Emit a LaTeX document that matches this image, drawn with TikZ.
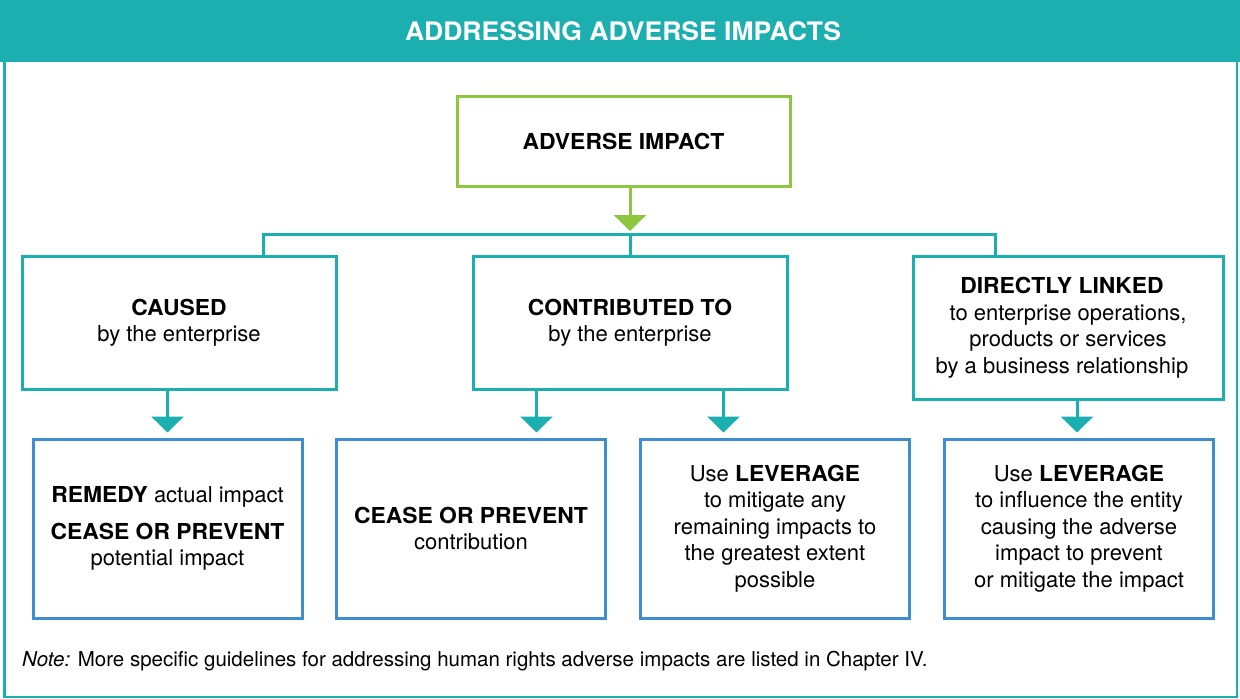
\documentclass[tikz,border=0pt]{standalone}
\usepackage{fontspec}
\setmainfont{TeX Gyre Heros}[BoldFeatures={FakeStretch=1.04}]
\usetikzlibrary{arrows.meta}
\definecolor{teal1}{HTML}{1BAFB0}
\definecolor{leaf}{HTML}{8DC63F}
\definecolor{sky}{HTML}{3E8DCE}
\newcommand{\padr}{\hspace*{12pt}}
\begin{document}
\begin{tikzpicture}[x=1pt,y=-1pt,
  boxtext/.style={font=\fontsize{22}{26.5}\selectfont, align=center, inner sep=0pt},
  tealbox/.style={boxtext, draw=teal1, line width=3pt},
  greenbox/.style={boxtext, draw=leaf, line width=3pt},
  bluebox/.style={boxtext, draw=sky, line width=3pt, minimum width=269pt, minimum height=179pt},
  tree/.style={draw=teal1, line width=3pt},
  tealarrow/.style={draw=teal1, line width=3pt, -{Triangle[width=32pt,length=16pt]}, shorten >=5pt},
  greenarrow/.style={draw=leaf, line width=3pt, -{Triangle[width=32pt,length=16pt]}, shorten >=3pt}]
\useasboundingbox (0,0) rectangle (1240,699);

% outer frame and title band
\draw[teal1, line width=2.5pt] (4.5,40) rectangle (1237,697);
\fill[teal1] (0,0) rectangle (1240,62);
\node[font=\fontsize{25.5}{30}\selectfont\bfseries, text=white, inner sep=0pt] (title) at (623,31) {ADDRESSING ADVERSE IMPACTS};

% top box
\node[greenbox, minimum width=333pt, minimum height=90pt] (impact) at (623.5,141) {\textbf{ADVERSE IMPACT}};

% middle row
\node[tealbox, minimum width=314pt, minimum height=133pt] (caused) at (179,322.5)
  {\textbf{CAUSED}\\by the enterprise};
\node[tealbox, minimum width=314pt, minimum height=133pt] (contrib) at (630,322.5)
  {\textbf{CONTRIBUTED TO}\\by the enterprise};
\node[tealbox, minimum width=310pt, minimum height=143pt] (linked) at (1068,327.5)
  {\textbf{DIRECTLY LINKED}\padr\\to enterprise operations,\padr\\products or services\padr\\by a business relationship\padr};

% bottom row
\node[bluebox] (remedy) at (167.5,528.5)
  {\textbf{REMEDY} actual impact\\[10.5pt]\textbf{CEASE OR PREVENT}\\potential impact};
\node[bluebox] (cease) at (471,528.5)
  {\textbf{CEASE OR PREVENT}\\contribution};
\node[bluebox] (mitigate) at (775,528.5)
  {Use \textbf{LEVERAGE}\\to mitigate any\\remaining impacts to\\the greatest extent\\possible};
\node[bluebox] (influence) at (1079,528.5)
  {Use \textbf{LEVERAGE}\\to influence the entity\\causing the adverse\\impact to prevent\\or mitigate the impact};

% branching connector
\coordinate (hub) at (630,234);
\coordinate (hubL) at (263,234);
\coordinate (hubR) at (995,234);
\draw[greenarrow] (impact.south -| hub) -- (hub);
\draw[tree] (hubL |- caused.north) -- (hubL) -- (hubR) -- (hubR |- linked.north);
\draw[tree] (hub) -- (hub |- contrib.north);

% arrows to the responses
\draw[tealarrow] (remedy.north |- caused.south) -- (remedy.north);
\draw[tealarrow] ([xshift=65pt]contrib.south west) -- ([xshift=65pt]contrib.south west |- cease.north);
\draw[tealarrow] ([xshift=-65pt]contrib.south east) -- ([xshift=-65pt]contrib.south east |- mitigate.north);
\draw[tealarrow] ([xshift=-2pt]influence.north |- linked.south) -- ([xshift=-2pt]influence.north);

% footnote
\node[anchor=west, font=\fontsize{20.5}{24}\selectfont, inner sep=0pt] (note) at (22,661)
  {\textit{Note:} More specific guidelines for addressing human rights adverse impacts are listed in Chapter IV.};
\end{tikzpicture}
\end{document}
